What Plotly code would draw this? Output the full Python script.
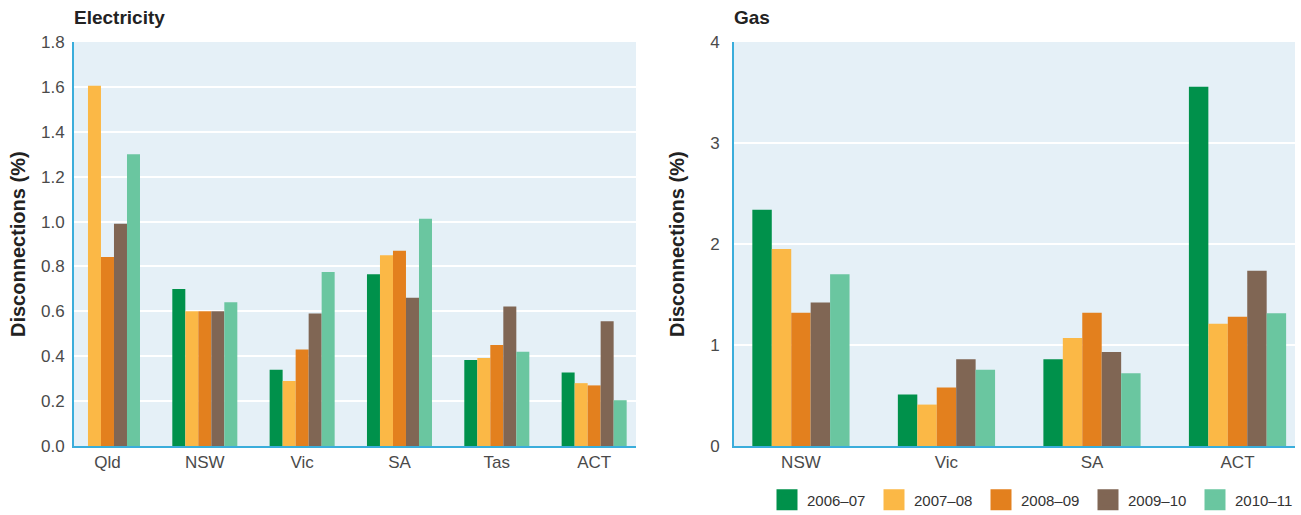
import plotly.graph_objects as go

years = ["2006–07", "2007–08", "2008–09", "2009–10", "2010–11"]
colors = ["#00914B", "#FBB846", "#E3801E", "#806654", "#6AC6A0"]

elec_states = ["Qld", "NSW", "Vic", "SA", "Tas", "ACT"]
elec_2006 = [None, 0.70, 0.34, 0.765, 0.383, 0.327]
elec_2007 = [1.605, 0.60, 0.29, 0.85, 0.392, 0.28]
elec_2008 = [0.842, 0.60, 0.43, 0.87, 0.45, 0.27]
elec_2009 = [0.99, 0.60, 0.59, 0.66, 0.622, 0.556]
elec_2010 = [1.30, 0.64, 0.775, 1.013, 0.42, 0.204]

gas_states = ["NSW", "Vic", "SA", "ACT"]
gas_2006 = [2.34, 0.51, 0.86, 3.557]
gas_2007 = [1.95, 0.41, 1.07, 1.21]
gas_2008 = [1.32, 0.58, 1.32, 1.28]
gas_2009 = [1.42, 0.86, 0.93, 1.736]
gas_2010 = [1.70, 0.755, 0.72, 1.314]

elec = [elec_2006, elec_2007, elec_2008, elec_2009, elec_2010]
gas = [gas_2006, gas_2007, gas_2008, gas_2009, gas_2010]

W, H = 1301, 515
T, B = 42, 69
PH = H - T - B
FONT = "Liberation Sans, Arial, sans-serif"
fig = go.Figure()

for i, y in enumerate(years):
    fig.add_trace(go.Bar(x=elec_states, y=elec[i], name=y, marker_color=colors[i],
                         marker_line_width=0, xaxis="x", yaxis="y", showlegend=False,
                         legendgroup=y))
for i, y in enumerate(years):
    fig.add_trace(go.Bar(x=gas_states, y=gas[i], name=y, marker_color=colors[i],
                         marker_line_width=0, xaxis="x2", yaxis="y2", showlegend=False,
                         legendgroup=y))
# legend-only entries (large square swatches)
for i, y in enumerate(years):
    fig.add_trace(go.Scatter(x=[gas_states[0]], y=[None], name=y, mode="markers",
                             marker=dict(symbol="square", size=16, color=colors[i],
                                         line=dict(width=5, color=colors[i])),
                             xaxis="x2", yaxis="y2", showlegend=True, legendgroup=y,
                             hoverinfo="skip"))

bg = "#E5F0F7"
axis_blue = "#3AADDB"
tick_font = dict(family=FONT, size=17, color="#4a4a4a")

common_x = dict(type="category", showgrid=False, showline=True, linecolor=axis_blue,
                linewidth=2, ticks="", tickfont=tick_font, zeroline=False, fixedrange=True,
                automargin=False)
common_y = dict(showgrid=True, gridcolor="white", gridwidth=2, showline=True,
                linecolor=axis_blue, linewidth=2, ticks="outside", tickcolor="rgba(0,0,0,0)",
                tickfont=tick_font, zeroline=False, fixedrange=True, automargin=False)

fig.update_layout(
    width=W, height=H,
    margin=dict(l=0, r=0, t=T, b=B, autoexpand=False),
    paper_bgcolor="white",
    plot_bgcolor=bg,
    barmode="group",
    bargap=0.332,
    bargroupgap=0,
    font=dict(family=FONT, color="#333333"),
    xaxis=dict(domain=[74 / W, 636 / W], range=[-0.344, 5.43], anchor="y", **common_x),
    yaxis=dict(domain=[0, 1], range=[0, 1.8], dtick=0.2, tickformat=".1f", anchor="x",
               ticklen=4, **common_y),
    xaxis2=dict(domain=[734 / W, 1295 / W], range=[-0.46, 3.395], anchor="y2", **common_x),
    yaxis2=dict(domain=[0, 1], range=[0, 4], dtick=1, anchor="x2", ticklen=9, **common_y),
    legend=dict(orientation="h", x=767 / W, xanchor="left", y=-(500 - (H - B)) / PH,
                yanchor="middle", itemsizing="trace",
                font=dict(family=FONT, size=15, color="#333333"),
                entrywidth=62, entrywidthmode="pixels", itemclick=False,
                bgcolor="rgba(0,0,0,0)", tracegroupgap=0),
    showlegend=True,
)

ann_font_title = dict(family=FONT, size=19, color="#222222")
ann_font_y = dict(family=FONT, size=20, color="#222222")
fig.add_annotation(text="<b>Electricity</b>", xref="paper", yref="paper",
                   x=72 / W, y=1 + 24 / PH,
                   showarrow=False, xanchor="left", yanchor="middle", font=ann_font_title)
fig.add_annotation(text="<b>Gas</b>", xref="paper", yref="paper",
                   x=732 / W, y=1 + 24 / PH,
                   showarrow=False, xanchor="left", yanchor="middle", font=ann_font_title)
fig.add_annotation(text="<b>Disconnections (%)</b>", xref="paper", yref="paper",
                   x=18 / W, y=0.5, textangle=-90, showarrow=False,
                   xanchor="center", yanchor="middle", font=ann_font_y)
fig.add_annotation(text="<b>Disconnections (%)</b>", xref="paper", yref="paper",
                   x=677 / W, y=0.5, textangle=-90, showarrow=False,
                   xanchor="center", yanchor="middle", font=ann_font_y)

fig.write_html("out.html", config={"displayModeBar": False},
               post_script="document.body.style.margin='0';")
